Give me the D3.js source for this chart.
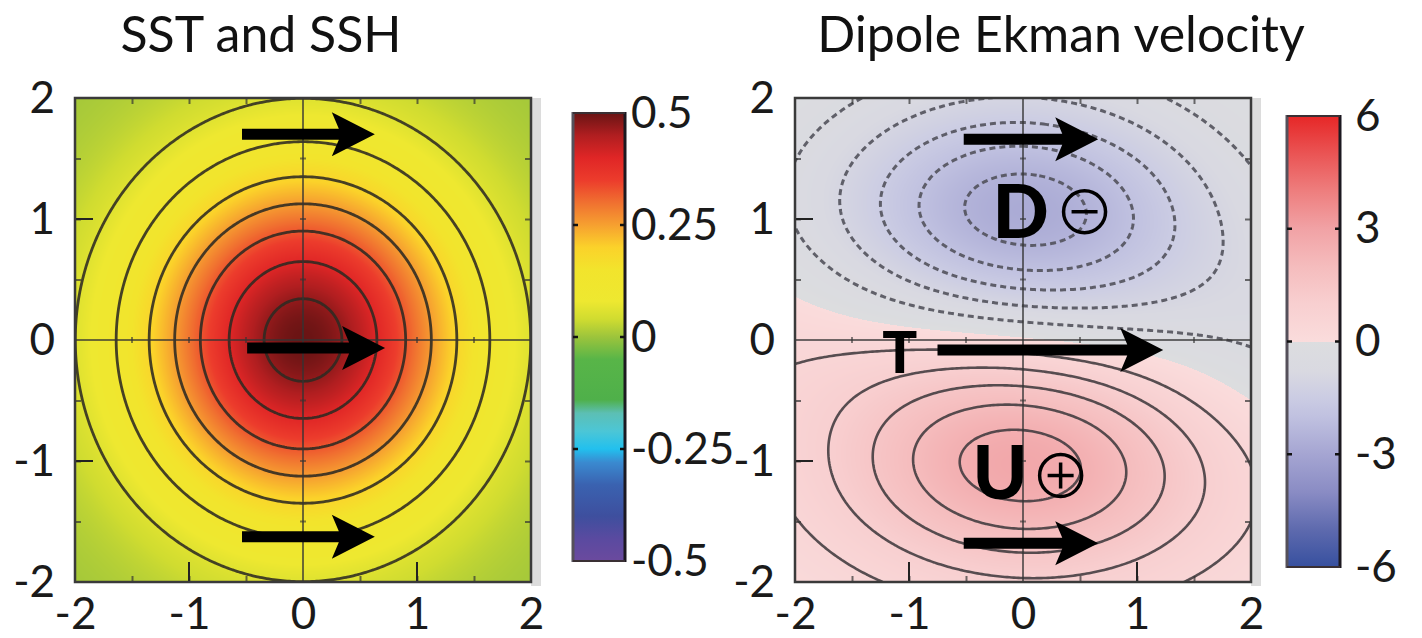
<!DOCTYPE html>
<html>
<head>
<title>SST and SSH / Dipole Ekman velocity</title>
<style>
  body { margin: 0; background: #fff; }
  svg { display: block; font-family: Lato, 'Open Sans', sans-serif; }
</style>
</head>
<body>
<svg id="svg" width="1422" height="638"></svg>
<script src="https://cdn.jsdelivr.net/npm/d3@7"></script>
<script>
// ---- data ----
const axisTicks = [-2, -1, 0, 1, 2];
const majorInner = [-1, 1];
const minorTicks = [-1.5, -1, -0.5, 0.5, 1, 1.5];
const sstTicks = [0.5, 0.25, 0, -0.25, -0.5];
const ekmanTicks = [6, 3, 0, -3, -6];

// SST eddy: amplitude, e-folding radius
const sstEddy = [0.5, 0.97];
const sstLevels = [0.06, 0.12, 0.19, 0.255, 0.325, 0.4, 0.47];

// Ekman dipole: peak, x width, y width, lobe offset
const ekmanLobes = [2.8, 1.15, 0.66, 1.04];
const ekmanTilt = [0.02, -0.03, -0.01];
// cross-eddy shift of the zero line: linear, quadratic, y width
const ekmanDrift = [-0.2, -0.021, 0.6];
const ekmanLevels = [-2.5, -2, -1.5, -1, -0.5, 0.5, 1, 1.5, 2, 2.5];

const sstStopValues = [-0.5, -0.45, -0.4, -0.33, -0.28, -0.25, -0.21, -0.17, -0.14, -0.05, 0, 0.04, 0.08, 0.15, 0.2, 0.25, 0.3, 0.35, 0.4, 0.45, 0.5];
const sstStopColors = ['#6b4a9e', '#5a4aa0', '#3e4f9e', '#3a62b0', '#3a8ad0', '#22c0ee', '#4cc6d6', '#5cbfb4', '#4fb04a', '#58b548', '#9cc43c', '#d0dc30', '#eee830', '#f2e42c', '#fbd22a', '#f6a030', '#f07030', '#ec3c2c', '#e02626', '#b01e20', '#6a1414'];
const ekmanPosValues = [0, 1, 2, 3, 4, 5, 6];
const ekmanPosColors = ['#fadcdc', '#f8cfd0', '#f5bcbd', '#f1a2a5', '#ee7e7e', '#ea5454', '#e62727'];
const ekmanNegValues = [-6, -5, -4, -3, -2, -1.5, -0.8, 0];
const ekmanNegColors = ['#37509f', '#5e6aae', '#8a8cc4', '#a5a5d2', '#c0c1e0', '#cbcce3', '#d9d9e1', '#dcdddf'];

// arrows: x start, x end, y (data units)
const sstArrows = [[-0.535, 0.63, 1.7], [-0.49, 0.72, -0.067], [-0.535, 0.63, -1.625]];
const ekmanArrows = [[-0.52, 0.66, 1.66], [-0.75, 1.23, -0.083], [-0.52, 0.66, -1.68]];
const ekmanLetters = [['D', -0.02, 0.84, 74], ['U', -0.2, -1.31, 74], ['T', -1.08, -0.27, 58]];
const ekmanSigns = [['-', 0.54, 1.06], ['+', 0.33, -1.12]];

const svg = d3.select('#svg');

const sstColor = d3.scaleLinear().domain(sstStopValues).range(sstStopColors).clamp(true);
const ekPos = d3.scaleLinear().domain(ekmanPosValues).range(ekmanPosColors).clamp(true);
const ekNeg = d3.scaleLinear().domain(ekmanNegValues).range(ekmanNegColors).clamp(true);
const ekmanColor = (v) => (v >= 0 ? ekPos(v) : ekNeg(v));

function sst(x, y) {
  const [amp, r] = sstEddy;
  return amp * Math.exp(-(x * x + y * y) / (2 * r * r));
}

function ekman(x, y) {
  const [peak, sx, sy, off] = ekmanLobes;
  const y0 = ekmanTilt[0] + ekmanTilt[1] * x + ekmanTilt[2] * x * x;
  const yy = y - y0;
  const gx = Math.exp(-(x * x) / (2 * sx * sx));
  const up = Math.exp(-((yy + off) ** 2) / (2 * sy * sy));
  const dn = Math.exp(-((yy - off) ** 2) / (2 * sy * sy));
  const [d1, d2, dw] = ekmanDrift;
  const drift = (d1 * x + d2 * x * x) * Math.exp(-(y * y) / (2 * dw * dw));
  return peak * gx * (up - dn) + drift;
}

const fmt = (d) => String(d);

function panel(opt) {
  const x = d3.scaleLinear().domain([-2, 2]).range(opt.xRange);
  const y = d3.scaleLinear().domain([-2, 2]).range([582, 98]);
  const g = svg.append('g');
  const x0 = opt.xRange[0];
  const w = opt.xRange[1] - opt.xRange[0];
  const h = 582 - 98;

  // light shadow strip right of the frame
  g.append('rect').attr('x', x0 + w).attr('y', 98).attr('width', 10).attr('height', h + 4).attr('fill', '#dcdcdc');

  // heatmap painted pixel by pixel
  const canvas = document.createElement('canvas');
  canvas.width = w;
  canvas.height = h;
  const ctx = canvas.getContext('2d');
  const img = ctx.createImageData(w, h);
  for (let j = 0; j < h; j++) {
    const dy = y.invert(98 + j + 0.5);
    for (let i = 0; i < w; i++) {
      const dx = x.invert(x0 + i + 0.5);
      const c = d3.rgb(opt.color(opt.field(dx, dy)));
      const k = (j * w + i) * 4;
      img.data[k] = c.r;
      img.data[k + 1] = c.g;
      img.data[k + 2] = c.b;
      img.data[k + 3] = 255;
    }
  }
  ctx.putImageData(img, 0, 0);
  g.append('image').attr('x', x0).attr('y', 98).attr('width', w).attr('height', h)
    .attr('preserveAspectRatio', 'none').attr('href', canvas.toDataURL());

  // contours
  const clipId = 'clip' + opt.id;
  svg.append('clipPath').attr('id', clipId).append('rect')
    .attr('x', x0).attr('y', 98).attr('width', w).attr('height', h);
  const n = 201;
  const step = 4 / (n - 1);
  const values = new Array(n * n);
  for (let j = 0; j < n; j++) {
    for (let i = 0; i < n; i++) {
      values[j * n + i] = opt.field(-2 + i * step, -2 + j * step);
    }
  }
  const contours = d3.contours().size([n, n]).thresholds(opt.levels)(values);
  const path = d3.geoPath(d3.geoTransform({
    point: function (gx, gy) {
      this.stream.point(x(-2 + (gx - 0.5) * step), y(-2 + (gy - 0.5) * step));
    },
  }));
  g.append('g').attr('clip-path', `url(#${clipId})`)
    .selectAll('path').data(contours).join('path')
    .attr('d', path)
    .attr('fill', 'none')
    .attr('stroke', (d) => (d.value < 0 ? '#4e4e58' : opt.lineColor))
    .attr('stroke-width', (d) => (d.value < 0 ? 3 : opt.lineWidth))
    .attr('stroke-dasharray', (d) => (d.value < 0 ? '6,4' : null))
    .attr('stroke-opacity', 0.88);

  // zero lines
  g.append('line').attr('x1', x(0)).attr('x2', x(0)).attr('y1', y(-2)).attr('y2', y(2))
    .attr('stroke', '#333').attr('stroke-opacity', 0.7).attr('stroke-width', 2);
  g.append('line').attr('x1', x(-2)).attr('x2', x(2)).attr('y1', y(0)).attr('y2', y(0))
    .attr('stroke', '#333').attr('stroke-opacity', 0.7).attr('stroke-width', 2);

  // small marks along the zero lines
  g.append('g').selectAll('line').data(minorTicks).join('line')
    .attr('x1', x(0) - 3).attr('x2', x(0) + 3).attr('y1', (d) => y(d)).attr('y2', (d) => y(d))
    .attr('stroke', '#333').attr('stroke-opacity', 0.6).attr('stroke-width', 2);
  g.append('g').selectAll('line').data(minorTicks).join('line')
    .attr('y1', y(0) - 3).attr('y2', y(0) + 3).attr('x1', (d) => x(d)).attr('x2', (d) => x(d))
    .attr('stroke', '#333').attr('stroke-opacity', 0.6).attr('stroke-width', 2);

  // minor ticks on all four sides
  const minor = (axis, tx, ty) => g.append('g').attr('transform', `translate(${tx},${ty})`)
    .call(axis.tickValues(minorTicks).tickSize(-6).tickFormat(''))
    .call((s) => s.select('.domain').remove())
    .call((s) => s.selectAll('line').attr('stroke', '#333').attr('stroke-width', 2).attr('stroke-opacity', 0.7));
  minor(d3.axisTop(x), 0, y(2));
  minor(d3.axisRight(y), x(2), 0);

  // labelled axes
  const left = g.append('g').attr('transform', `translate(${x0},0)`)
    .call(d3.axisLeft(y).tickValues(axisTicks).tickSize(0).tickPadding(20).tickFormat(fmt));
  const bottom = g.append('g').attr('transform', `translate(0,${y(-2)})`)
    .call(d3.axisBottom(x).tickValues(axisTicks).tickSize(0).tickPadding(16).tickFormat(fmt));
  [left, bottom].forEach((a) => {
    a.select('.domain').remove();
    a.attr('font-family', null).attr('font-size', null);
    a.selectAll('text').attr('font-size', 44).attr('fill', '#1a1a1a');
  });
  minor(d3.axisLeft(y), x0, 0);
  minor(d3.axisBottom(x), 0, y(-2));
  g.append('g').selectAll('line').data(majorInner).join('line')
    .attr('x1', x0).attr('x2', x0 + 18).attr('y1', (d) => y(d)).attr('y2', (d) => y(d))
    .attr('stroke', '#222').attr('stroke-width', 2);
  g.append('g').selectAll('line').data(majorInner).join('line')
    .attr('y1', y(-2)).attr('y2', y(-2) - 20).attr('x1', (d) => x(d)).attr('x2', (d) => x(d))
    .attr('stroke', '#222').attr('stroke-width', 2);

  // frame
  g.append('rect').attr('x', x0).attr('y', 98).attr('width', w).attr('height', h)
    .attr('fill', 'none').attr('stroke', '#3a3a3a').attr('stroke-width', 2.5);

  // arrows
  g.append('g').selectAll('path').data(opt.arrows).join('path')
    .attr('d', (d) => {
      const xs = x(d[0]);
      const xe = x(d[1]);
      const yc = y(d[2]);
      const hl = 43;
      const hw = 22;
      const sw = 5.5;
      return `M${xs},${yc - sw}L${xe - hl + 7},${yc - sw}L${xe - hl},${yc - hw}L${xe},${yc}` +
        `L${xe - hl},${yc + hw}L${xe - hl + 7},${yc + sw}L${xs},${yc + sw}Z`;
    })
    .attr('fill', '#000');

  // title
  svg.append('text').attr('x', opt.titleX).attr('y', 52).attr('text-anchor', 'middle')
    .attr('font-size', 50).attr('fill', '#111').text(opt.title);

  return { x, y, g };
}

function colorbar(opt) {
  const s = d3.scaleLinear().domain(opt.domain).range(opt.yRange);
  const gid = 'grad' + opt.id;
  const grad = svg.append('defs').append('linearGradient').attr('id', gid)
    .attr('x1', 0).attr('x2', 0).attr('y1', 1).attr('y2', 0);
  const span = opt.domain[1] - opt.domain[0];
  grad.selectAll('stop').data(opt.stops).join('stop')
    .attr('offset', (d) => (d[0] - opt.domain[0]) / span)
    .attr('stop-color', (d) => d[1]);
  const top = opt.yRange[1];
  const hgt = opt.yRange[0] - opt.yRange[1];
  svg.append('rect').attr('x', opt.x).attr('y', top).attr('width', opt.w).attr('height', hgt)
    .attr('fill', `url(#${gid})`);
  svg.append('line').attr('x1', opt.x).attr('x2', opt.x).attr('y1', top - 1).attr('y2', top + hgt + 1)
    .attr('stroke', '#55505a').attr('stroke-width', 3);
  svg.append('line').attr('x1', opt.x + opt.w).attr('x2', opt.x + opt.w).attr('y1', top - 1).attr('y2', top + hgt + 1)
    .attr('stroke', '#1c1820').attr('stroke-width', 3);
  svg.append('line').attr('x1', opt.x).attr('x2', opt.x + opt.w).attr('y1', top).attr('y2', top)
    .attr('stroke', '#3a3034').attr('stroke-width', 2);
  svg.append('line').attr('x1', opt.x).attr('x2', opt.x + opt.w).attr('y1', top + hgt).attr('y2', top + hgt)
    .attr('stroke', '#3a3034').attr('stroke-width', 2);

  const inner = opt.ticks.slice(1, -1);
  const ax = svg.append('g').attr('transform', `translate(${opt.x + opt.w},0)`)
    .call(d3.axisRight(s).tickValues(opt.ticks).tickSize(0).tickPadding(opt.pad).tickFormat(fmt));
  ax.select('.domain').remove();
  ax.attr('font-family', null).attr('font-size', null);
  ax.selectAll('text').attr('font-size', 44).attr('fill', '#1a1a1a');
  [opt.x, opt.x + opt.w].forEach((bx, k) => {
    svg.append('g').selectAll('line').data(inner).join('line')
      .attr('x1', bx).attr('x2', bx + (k === 0 ? 5 : -5))
      .attr('y1', (d) => s(d)).attr('y2', (d) => s(d))
      .attr('stroke', '#111').attr('stroke-width', 2.5);
  });
}

// ---- left: SST and SSH ----
panel({
  id: 'a', xRange: [75, 531], field: sst, color: sstColor, levels: sstLevels,
  lineColor: '#2e2a22', lineWidth: 2.8, arrows: sstArrows, title: 'SST and SSH', titleX: 261,
});
colorbar({
  id: 'a', domain: [-0.5, 0.5], yRange: [561, 113], x: 573, w: 52, pad: 6, ticks: sstTicks,
  stops: sstStopValues.map((v, i) => [v, sstStopColors[i]]),
});

// ---- right: Dipole Ekman velocity ----
const right = panel({
  id: 'b', xRange: [795, 1251], field: ekman, color: ekmanColor, levels: ekmanLevels,
  lineColor: '#403a3e', lineWidth: 2.6, arrows: ekmanArrows, title: 'Dipole Ekman velocity', titleX: 1061,
});
colorbar({
  id: 'b', domain: [-6, 6], yRange: [567, 116], x: 1287, w: 53, pad: 15, ticks: ekmanTicks,
  stops: ekmanNegValues.map((v, i) => [v, ekmanNegColors[i]])
    .concat(ekmanPosValues.map((v, i) => [v, ekmanPosColors[i]])),
});

right.g.append('g').selectAll('text').data(ekmanLetters).join('text')
  .attr('x', (d) => right.x(d[1])).attr('y', (d) => right.y(d[2]))
  .attr('text-anchor', 'middle').attr('font-weight', 900)
  .attr('font-size', (d) => d[3]).attr('fill', '#000').text((d) => d[0]);

const signs = right.g.append('g').selectAll('g').data(ekmanSigns).join('g')
  .attr('transform', (d) => `translate(${right.x(d[1])},${right.y(d[2])})`);
signs.append('circle').attr('r', 21).attr('fill', 'none').attr('stroke', '#000').attr('stroke-width', 3.5);
signs.append('line').attr('x1', -13).attr('x2', 13).attr('stroke', '#000').attr('stroke-width', 3.5);
signs.filter((d) => d[0] === '+').append('line').attr('y1', -13).attr('y2', 13)
  .attr('stroke', '#000').attr('stroke-width', 3.5);
</script>
</body>
</html>
